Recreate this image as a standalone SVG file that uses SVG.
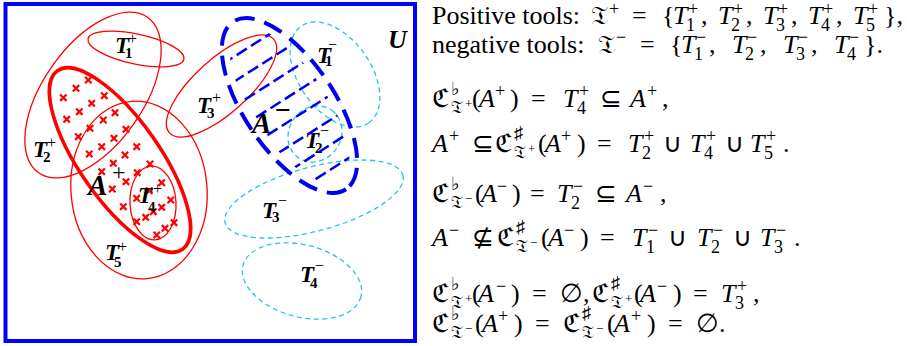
<svg xmlns="http://www.w3.org/2000/svg" xmlns:xlink="http://www.w3.org/1999/xlink" width="907" height="346" viewBox="0 0 907 346">
<style>
.frame{fill:none;stroke:#0000FF;stroke-width:4}
.red{fill:none;stroke:#FF0000;stroke-width:1.3}
.thick{stroke-width:3.6}
.cyan{fill:none;stroke:#20C4F4;stroke-width:1.3;stroke-dasharray:5 3.5}
.am{fill:none;stroke:#0000F0;stroke-width:4;stroke-dasharray:20 10}
.hatch{stroke:#0000F0;stroke-width:2.5;stroke-dasharray:12 5}
.cross{fill:none;stroke:#FF0000;stroke-width:2.2}
.lab{font-family:"Liberation Serif",serif;font-weight:bold;font-style:italic;font-size:23px;fill:#000}
.lsub{font-size:15px;font-style:normal}
.lsup{font-size:16px;font-weight:normal;font-style:normal}
text.f{font-family:"Liberation Serif",serif;font-size:26px;fill:#000}
.i{font-style:italic}
.s{font-size:18px}
.ss{font-size:13px}
</style>
<defs>
<path id="x" d="M-3.2,-3.2L3.2,3.2M-3.2,3.2L3.2,-3.2"/>
<clipPath id="aclip"><ellipse cx="289.5" cy="105.5" rx="92" ry="37" transform="rotate(56 289.5 105.5)"/></clipPath>
</defs>
<rect class="frame" x="5.5" y="4" width="409.5" height="337"/>

<g id="T2plus"><ellipse class="red" cx="93" cy="95" rx="95" ry="50" transform="rotate(-55 93 95)"/>
<text class="lab"><tspan x="33" y="157">T</tspan><tspan class="lsub" x="43" y="162">2</tspan><tspan class="lsup" x="47" y="148">+</tspan></text></g>
<g id="T1plus"><ellipse class="red" cx="136" cy="49" rx="49" ry="15" transform="rotate(12 136 49)"/>
<text class="lab"><tspan x="115" y="53">T</tspan><tspan class="lsub" x="125" y="58">1</tspan><tspan class="lsup" x="128" y="44">+</tspan></text></g>
<g id="T5plus"><ellipse class="red" cx="139" cy="190" rx="68" ry="89" transform="rotate(-5 139 190)"/>
<text class="lab"><tspan x="105" y="260">T</tspan><tspan class="lsub" x="114" y="267">5</tspan><tspan class="lsup" x="118" y="252">+</tspan></text></g>
<g id="T3plus"><ellipse class="red" cx="221.5" cy="86" rx="70" ry="27" transform="rotate(-42 221.5 86)"/>
<text class="lab"><tspan x="197" y="113">T</tspan><tspan class="lsub" x="207" y="118">3</tspan><tspan class="lsup" x="212" y="103">+</tspan></text></g>
<g id="Aplus"><ellipse class="red thick" cx="120" cy="160" rx="109" ry="40" transform="rotate(55 120 160)"/>
<g class="cross">
<use xlink:href="#x" x="88.3" y="80"/><use xlink:href="#x" x="76" y="88.3"/><use xlink:href="#x" x="63.3" y="97.7"/>
<use xlink:href="#x" x="104.3" y="95.7"/><use xlink:href="#x" x="91.7" y="103.3"/><use xlink:href="#x" x="79.3" y="111.7"/><use xlink:href="#x" x="66.7" y="119.3"/>
<use xlink:href="#x" x="115" y="112.7"/><use xlink:href="#x" x="103.3" y="120"/><use xlink:href="#x" x="90" y="128.3"/><use xlink:href="#x" x="78.3" y="136.7"/>
<use xlink:href="#x" x="126" y="129.3"/><use xlink:href="#x" x="114" y="138.3"/><use xlink:href="#x" x="101.7" y="146.7"/><use xlink:href="#x" x="89.3" y="154"/>
<use xlink:href="#x" x="136.7" y="146.7"/><use xlink:href="#x" x="125" y="155"/><use xlink:href="#x" x="113.3" y="163.3"/><use xlink:href="#x" x="101.7" y="171.7"/>
<use xlink:href="#x" x="150" y="164"/><use xlink:href="#x" x="137.3" y="172.7"/><use xlink:href="#x" x="126" y="181.7"/><use xlink:href="#x" x="112.3" y="189"/>
<use xlink:href="#x" x="161.7" y="182.7"/><use xlink:href="#x" x="149.3" y="190.7"/><use xlink:href="#x" x="136.7" y="198.3"/><use xlink:href="#x" x="123.3" y="206.7"/>
<use xlink:href="#x" x="170.7" y="200"/><use xlink:href="#x" x="161.7" y="207.3"/><use xlink:href="#x" x="153.3" y="211.7"/><use xlink:href="#x" x="145.7" y="217.3"/><use xlink:href="#x" x="136.7" y="221.7"/>
<use xlink:href="#x" x="174" y="222.7"/><use xlink:href="#x" x="165" y="228.3"/><use xlink:href="#x" x="156.7" y="235"/>
</g>
<text class="lab" style="font-size:29px"><tspan x="88" y="195">A</tspan><tspan style="font-size:24px;font-weight:normal;font-style:normal" x="112" y="180">+</tspan></text></g>
<g id="T4plus"><ellipse class="red" cx="153" cy="203" rx="23" ry="37" transform="rotate(-3 153 203)"/>
<text class="lab"><tspan x="138" y="203">T</tspan><tspan class="lsub" x="148" y="212">4</tspan><tspan class="lsup" x="153" y="194">+</tspan></text></g>

<g id="T1minus"><ellipse class="cyan" cx="335" cy="74.5" rx="59" ry="36" transform="rotate(55 335 74.5)"/>
<text class="lab"><tspan x="317" y="63">T</tspan><tspan class="lsub" x="325" y="66">1</tspan><tspan class="lsup" x="328" y="50">−</tspan></text></g>
<g id="T2minus"><ellipse class="cyan" cx="315" cy="134" rx="29" ry="26" transform="rotate(-55 315 134)"/>
<text class="lab"><tspan x="305" y="148">T</tspan><tspan class="lsub" x="315" y="153">2</tspan><tspan class="lsup" x="320" y="136">−</tspan></text></g>
<g id="T3minus"><ellipse class="cyan" cx="314" cy="199" rx="92" ry="32" transform="rotate(-15 314 199)"/>
<text class="lab"><tspan x="262" y="218">T</tspan><tspan class="lsub" x="272" y="222">3</tspan><tspan class="lsup" x="278" y="206">−</tspan></text></g>
<g id="T4minus"><ellipse class="cyan" cx="302" cy="281" rx="61" ry="36" transform="rotate(15 302 281)"/>
<text class="lab"><tspan x="300" y="282">T</tspan><tspan class="lsub" x="310" y="288">4</tspan><tspan class="lsup" x="315" y="271">−</tspan></text></g>

<g id="Aminus">
<g clip-path="url(#aclip)"><g transform="rotate(-32.5 289.5 105.5)" class="hatch">
<line x1="170" y1="34.6" x2="410" y2="34.6"/><line x1="170" y1="55.6" x2="410" y2="55.6"/><line x1="170" y1="76.6" x2="410" y2="76.6"/><line x1="170" y1="97.6" x2="410" y2="97.6"/>
<line x1="170" y1="118.6" x2="410" y2="118.6"/><line x1="170" y1="139.6" x2="410" y2="139.6"/><line x1="170" y1="160.6" x2="410" y2="160.6"/><line x1="170" y1="181.6" x2="410" y2="181.6"/>
</g></g>
<ellipse class="am" cx="289.5" cy="105.5" rx="101" ry="45" transform="rotate(56 289.5 105.5)"/>
<text class="lab" style="font-size:29px"><tspan x="252" y="133">A</tspan><tspan style="font-size:28px;font-style:normal" x="275" y="119">−</tspan></text></g>

<g id="U"><text class="lab" style="font-size:26px" x="388" y="48">U</text></g>

<g id="formulas" font-family="Liberation Serif, serif">
<text class="f"><tspan x="432" y="24">Positive tools:</tspan><tspan x="591">𝔗</tspan><tspan class="s" x="609" y="15">+</tspan><tspan x="632" y="24">=</tspan><tspan x="662">{</tspan><tspan class="i" x="673">T</tspan><tspan class="s" x="686" y="31">1</tspan><tspan class="s" x="688" y="15">+</tspan><tspan x="701" y="24">,</tspan><tspan class="i" x="718">T</tspan><tspan class="s" x="731" y="31">2</tspan><tspan class="s" x="733" y="15">+</tspan><tspan x="746" y="24">,</tspan><tspan class="i" x="763">T</tspan><tspan class="s" x="776" y="31">3</tspan><tspan class="s" x="778" y="15">+</tspan><tspan x="791" y="24">,</tspan><tspan class="i" x="808">T</tspan><tspan class="s" x="821" y="31">4</tspan><tspan class="s" x="823" y="15">+</tspan><tspan x="836" y="24">,</tspan><tspan class="i" x="853">T</tspan><tspan class="s" x="866" y="31">5</tspan><tspan class="s" x="868" y="15">+</tspan><tspan x="884" y="24">},</tspan></text>
<text class="f"><tspan x="432" y="53">negative tools:</tspan><tspan x="598">𝔗</tspan><tspan class="s" x="616" y="43">−</tspan><tspan x="640" y="53">=</tspan><tspan x="670">{</tspan><tspan class="i" x="681">T</tspan><tspan class="s" x="694" y="60">1</tspan><tspan class="s" x="696" y="43">−</tspan><tspan x="709" y="53">,</tspan><tspan class="i" x="732">T</tspan><tspan class="s" x="745" y="60">2</tspan><tspan class="s" x="747" y="43">−</tspan><tspan x="760" y="53">,</tspan><tspan class="i" x="783">T</tspan><tspan class="s" x="796" y="60">3</tspan><tspan class="s" x="798" y="43">−</tspan><tspan x="811" y="53">,</tspan><tspan class="i" x="834">T</tspan><tspan class="s" x="847" y="60">4</tspan><tspan class="s" x="849" y="43">−</tspan><tspan x="864" y="53">}.</tspan></text>
<text class="f"><tspan x="432" y="107">ℭ</tspan><tspan class="s" x="451" y="95">♭</tspan><tspan class="s" x="451" y="113">𝔗</tspan><tspan class="ss" x="465" y="108">+</tspan><tspan x="472" y="107">(</tspan><tspan class="i" x="479">A</tspan><tspan class="s" x="495" y="97">+</tspan><tspan x="510" y="107">)</tspan><tspan x="531">=</tspan><tspan class="i" x="563">T</tspan><tspan class="s" x="577" y="114">4</tspan><tspan class="s" x="579" y="97">+</tspan><tspan x="600" y="107">⊆</tspan><tspan class="i" x="630">A</tspan><tspan class="s" x="647" y="97">+</tspan><tspan x="662" y="107">,</tspan></text>
<text class="f"><tspan class="i" x="432" y="152">A</tspan><tspan class="s" x="449" y="142">+</tspan><tspan x="472" y="152">⊆</tspan><tspan x="495">ℭ</tspan><tspan class="s" x="514" y="139">♯</tspan><tspan class="s" x="514" y="158">𝔗</tspan><tspan class="ss" x="528" y="153">+</tspan><tspan x="538" y="152">(</tspan><tspan class="i" x="545">A</tspan><tspan class="s" x="561" y="142">+</tspan><tspan x="577" y="152">)</tspan><tspan x="597">=</tspan><tspan class="i" x="628">T</tspan><tspan class="s" x="642" y="159">2</tspan><tspan class="s" x="644" y="142">+</tspan><tspan x="663" y="152">∪</tspan><tspan class="i" x="690">T</tspan><tspan class="s" x="704" y="159">4</tspan><tspan class="s" x="706" y="142">+</tspan><tspan x="725" y="152">∪</tspan><tspan class="i" x="750">T</tspan><tspan class="s" x="764" y="159">5</tspan><tspan class="s" x="766" y="142">+</tspan><tspan x="783" y="152">.</tspan></text>
<text class="f"><tspan x="432" y="202">ℭ</tspan><tspan class="s" x="451" y="190">♭</tspan><tspan class="s" x="451" y="208">𝔗</tspan><tspan class="ss" x="465" y="203">−</tspan><tspan x="475" y="202">(</tspan><tspan class="i" x="481">A</tspan><tspan class="s" x="497" y="192">−</tspan><tspan x="512" y="202">)</tspan><tspan x="530">=</tspan><tspan class="i" x="557">T</tspan><tspan class="s" x="571" y="209">2</tspan><tspan class="s" x="573" y="192">−</tspan><tspan x="595" y="202">⊆</tspan><tspan class="i" x="626">A</tspan><tspan class="s" x="643" y="192">−</tspan><tspan x="660" y="202">,</tspan></text>
<text class="f"><tspan class="i" x="432" y="246">A</tspan><tspan class="s" x="449" y="236">−</tspan><tspan x="472" y="246">⊈</tspan><tspan x="497">ℭ</tspan><tspan class="s" x="516" y="233">♯</tspan><tspan class="s" x="516" y="252">𝔗</tspan><tspan class="ss" x="530" y="247">−</tspan><tspan x="541" y="246">(</tspan><tspan class="i" x="548">A</tspan><tspan class="s" x="564" y="236">−</tspan><tspan x="580" y="246">)</tspan><tspan x="600">=</tspan><tspan class="i" x="632">T</tspan><tspan class="s" x="646" y="253">1</tspan><tspan class="s" x="648" y="236">−</tspan><tspan x="668" y="246">∪</tspan><tspan class="i" x="697">T</tspan><tspan class="s" x="711" y="253">2</tspan><tspan class="s" x="713" y="236">−</tspan><tspan x="733" y="246">∪</tspan><tspan class="i" x="760">T</tspan><tspan class="s" x="774" y="253">3</tspan><tspan class="s" x="776" y="236">−</tspan><tspan x="794" y="246">.</tspan></text>
<text class="f"><tspan x="432" y="302">ℭ</tspan><tspan class="s" x="451" y="290">♭</tspan><tspan class="s" x="451" y="308">𝔗</tspan><tspan class="ss" x="465" y="303">+</tspan><tspan x="472" y="302">(</tspan><tspan class="i" x="478">A</tspan><tspan class="s" x="496" y="292">−</tspan><tspan x="511" y="302">)</tspan><tspan x="532">=</tspan><tspan x="560">∅,</tspan><tspan x="592">ℭ</tspan><tspan class="s" x="611" y="289">♯</tspan><tspan class="s" x="611" y="308">𝔗</tspan><tspan class="ss" x="625" y="303">+</tspan><tspan x="634" y="302">(</tspan><tspan class="i" x="640">A</tspan><tspan class="s" x="657" y="292">−</tspan><tspan x="673" y="302">)</tspan><tspan x="693">=</tspan><tspan class="i" x="721">T</tspan><tspan class="s" x="735" y="309">3</tspan><tspan class="s" x="737" y="292">+</tspan><tspan x="753" y="302">,</tspan></text>
<text class="f"><tspan x="432" y="332">ℭ</tspan><tspan class="s" x="451" y="320">♭</tspan><tspan class="s" x="451" y="338">𝔗</tspan><tspan class="ss" x="465" y="333">−</tspan><tspan x="475" y="332">(</tspan><tspan class="i" x="482">A</tspan><tspan class="s" x="498" y="322">+</tspan><tspan x="514" y="332">)</tspan><tspan x="535">=</tspan><tspan x="563">ℭ</tspan><tspan class="s" x="582" y="319">♯</tspan><tspan class="s" x="582" y="338">𝔗</tspan><tspan class="ss" x="596" y="333">−</tspan><tspan x="607" y="332">(</tspan><tspan class="i" x="614">A</tspan><tspan class="s" x="631" y="322">+</tspan><tspan x="647" y="332">)</tspan><tspan x="668">=</tspan><tspan x="696">∅.</tspan></text>
</g>
</svg>
